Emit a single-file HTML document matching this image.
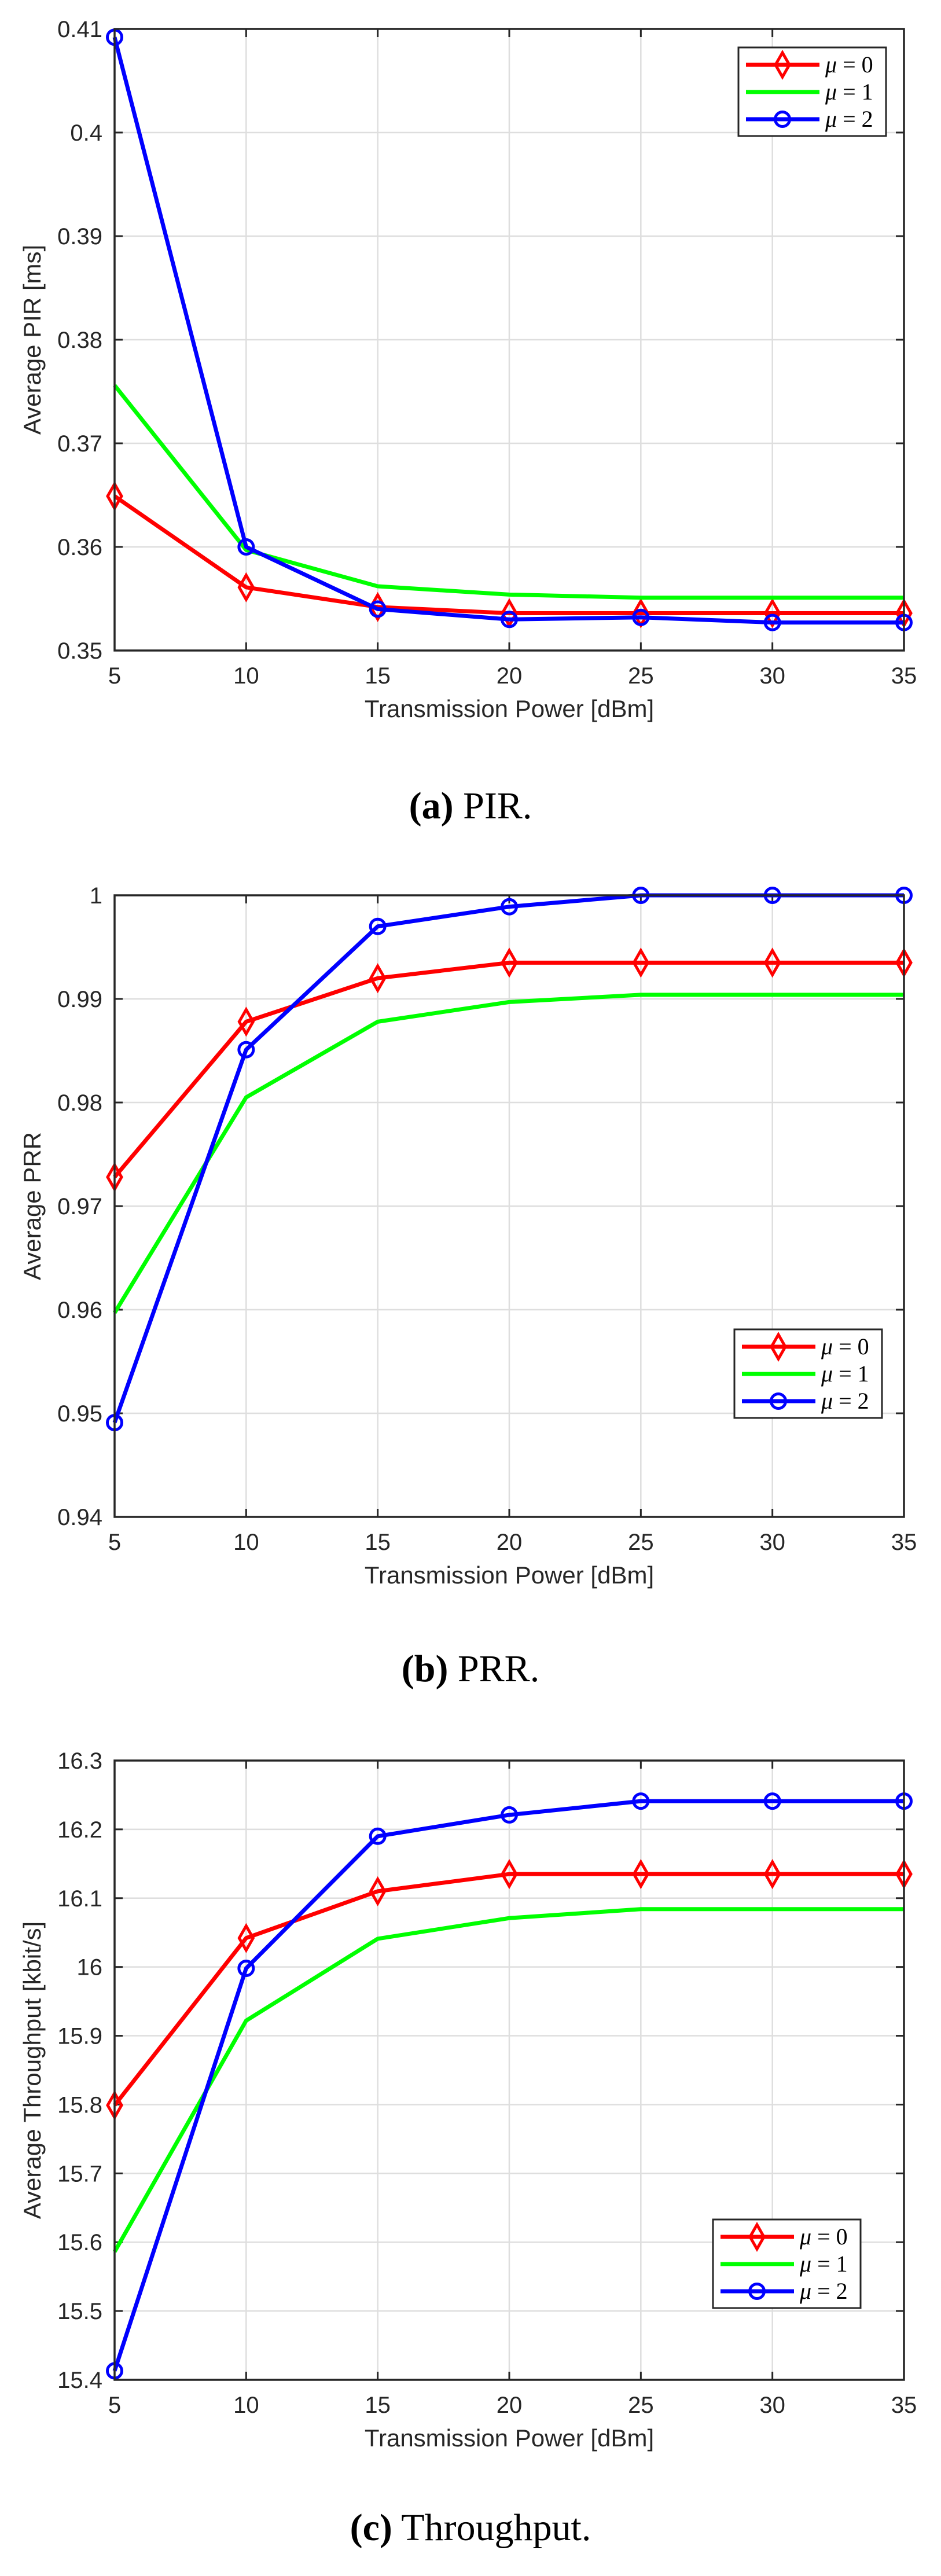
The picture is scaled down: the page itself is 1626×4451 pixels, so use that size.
<!DOCTYPE html>
<html><head><meta charset="utf-8">
<style>
html,body{margin:0;padding:0;background:#fff;}
svg{display:block;}
.tick{font-family:"Liberation Sans",sans-serif;font-size:40px;fill:#262626;}
.alab{font-family:"Liberation Sans",sans-serif;font-size:42px;fill:#262626;}
.cap{font-family:"Liberation Serif",serif;font-size:66px;fill:#000;}
.leg{font-family:"Liberation Serif",serif;font-size:40px;fill:#000;}
</style></head>
<body>
<svg id="root" width="1626" height="4451" viewBox="0 0 1626 4451" xmlns="http://www.w3.org/2000/svg"></svg>
<script>
const xCategories = [5, 10, 15, 20, 25, 30, 35];
const xTickLabels = ["5","10","15","20","25","30","35"];

const pirMu0 = [0.3649, 0.3561, 0.3542, 0.3536, 0.3536, 0.3536, 0.3536];
const pirMu1 = [0.3756, 0.3597, 0.3562, 0.3554, 0.3551, 0.3551, 0.3551];
const pirMu2 = [0.4092, 0.3600, 0.3540, 0.3530, 0.3532, 0.3527, 0.3527];
const pirTicks = [0.35, 0.36, 0.37, 0.38, 0.39, 0.40, 0.41];
const pirTickLabels = ["0.35","0.36","0.37","0.38","0.39","0.4","0.41"];

const prrMu0 = [0.9728, 0.9878, 0.9920, 0.9935, 0.9935, 0.9935, 0.9935];
const prrMu1 = [0.9597, 0.9805, 0.9878, 0.9897, 0.9904, 0.9904, 0.9904];
const prrMu2 = [0.9491, 0.9851, 0.9970, 0.9989, 1.0, 1.0, 1.0];
const prrTicks = [0.94, 0.95, 0.96, 0.97, 0.98, 0.99, 1.0];
const prrTickLabels = ["0.94","0.95","0.96","0.97","0.98","0.99","1"];

const thrMu0 = [15.799, 16.042, 16.110, 16.135, 16.135, 16.135, 16.135];
const thrMu1 = [15.586, 15.922, 16.041, 16.071, 16.084, 16.084, 16.084];
const thrMu2 = [15.413, 15.998, 16.190, 16.221, 16.241, 16.241, 16.241];
const thrTicks = [15.4, 15.5, 15.6, 15.7, 15.8, 15.9, 16.0, 16.1, 16.2, 16.3];
const thrTickLabels = ["15.4","15.5","15.6","15.7","15.8","15.9","16","16.1","16.2","16.3"];

const legendLabels = ["\u03bc = 0", "\u03bc = 1", "\u03bc = 2"];

const NS = "http://www.w3.org/2000/svg";
const root = document.getElementById("root");
function mk(tag, attrs, parent) {
  const e = document.createElementNS(NS, tag);
  for (const k in attrs) e.setAttribute(k, attrs[k]);
  (parent || root).appendChild(e);
  return e;
}
const COLORS = ["#ff0000", "#00ff00", "#0000ff"];
const MARKERS = ["diamond", "none", "circle"];

function drawMarker(g, type, x, y, color) {
  if (type === "diamond") {
    const m = mk("polygon", {points: `${x},${y-21} ${x+12},${y} ${x},${y+21} ${x-12},${y}`, fill: "none", stroke: color, "stroke-width": 5}, g);
    
    
  } else if (type === "circle") {
    const m = mk("circle", {cx: x, cy: y, r: 12.5, fill: "none", stroke: color, "stroke-width": 5}, g);
    
    
  }
}

function chart(cfg) {
  const L = 198, R = 1562, T = cfg.top, B = cfg.bottom;
  const xmin = xCategories[0], xmax = xCategories[xCategories.length - 1];
  const ymin = cfg.ticks[0], ymax = cfg.ticks[cfg.ticks.length - 1];
  const xs = v => L + (v - xmin) / (xmax - xmin) * (R - L);
  const ys = v => B - (v - ymin) / (ymax - ymin) * (B - T);
  const g = mk("g", {});
  
  
  // grid
  xCategories.forEach(v => {
    const l = mk("line", {x1: xs(v), x2: xs(v), y1: T, y2: B, stroke: "#dedede", "stroke-width": 2.5}, g);
    
    
  });
  cfg.ticks.forEach(v => {
    const l = mk("line", {x1: L, x2: R, y1: ys(v), y2: ys(v), stroke: "#dedede", "stroke-width": 2.5}, g);
    
    
  });
  // ticks
  xCategories.forEach((v, i) => {
    mk("line", {x1: xs(v), x2: xs(v), y1: B, y2: B - 14, stroke: "#262626", "stroke-width": 3}, g);
    mk("line", {x1: xs(v), x2: xs(v), y1: T, y2: T + 14, stroke: "#262626", "stroke-width": 3}, g);
    const t = mk("text", {x: xs(v), y: B + 57, "text-anchor": "middle", class: "tick"}, g);
    t.textContent = xTickLabels[i];
    
    
  });
  cfg.ticks.forEach((v, i) => {
    mk("line", {x1: L, x2: L + 14, y1: ys(v), y2: ys(v), stroke: "#262626", "stroke-width": 3}, g);
    mk("line", {x1: R, x2: R - 14, y1: ys(v), y2: ys(v), stroke: "#262626", "stroke-width": 3}, g);
    const t = mk("text", {x: L - 21, y: ys(v) + 14, "text-anchor": "end", class: "tick"}, g);
    t.textContent = cfg.tickLabels[i];
    
    
  });
  // series
  cfg.series.forEach((s, si) => {
    const sg = mk("g", {}, g);
    
    
    const pts = s.map((v, i) => xs(xCategories[i]) + "," + ys(v)).join(" ");
    const pl = mk("polyline", {points: pts, fill: "none", stroke: COLORS[si], "stroke-width": 7, "stroke-linejoin": "round"}, sg);
    
    
    s.forEach((v, i) => drawMarker(sg, MARKERS[si], xs(xCategories[i]), ys(v), COLORS[si]));
  });
  // axes box
  const box = mk("rect", {x: L, y: T, width: R - L, height: B - T, fill: "none", stroke: "#262626", "stroke-width": 3.5}, g);
  
  
  // labels
  const xl = mk("text", {x: (L + R) / 2, y: B + 115, "text-anchor": "middle", class: "alab"}, g);
  xl.textContent = "Transmission Power [dBm]";
  
  
  const cy = (T + B) / 2;
  const yl = mk("text", {x: 70, y: cy, "text-anchor": "middle", class: "alab", transform: `rotate(-90 70 ${cy})`}, g);
  yl.textContent = cfg.ylabel;
  
  
  // legend
  const lg = mk("g", {}, g);
  
  
  const lx = cfg.legX, ly = cfg.legY;
  mk("rect", {x: lx, y: ly, width: 255, height: 153, fill: "#fff", stroke: "#262626", "stroke-width": 3}, lg);
  [30, 77, 124].forEach((dy, i) => {
    const e = mk("g", {}, lg);
    
    
    mk("line", {x1: lx + 13, x2: lx + 140, y1: ly + dy, y2: ly + dy, stroke: COLORS[i], "stroke-width": 7}, e);
    drawMarker(e, MARKERS[i], lx + 76, ly + dy, COLORS[i]);
    const t = mk("text", {x: lx + 150, y: ly + dy + 13, class: "leg"}, e);
    t.innerHTML = '<tspan font-style="italic">\u03bc</tspan> = ' + i;
  });
  // caption
  const c = mk("text", {x: 813, y: cfg.capY, "text-anchor": "middle", class: "cap"}, g);
  c.innerHTML = '<tspan font-weight="bold">' + cfg.capA + '</tspan> ' + cfg.capB;
  
  
}

chart({name: "pir-chart", top: 50, bottom: 1124, ticks: pirTicks, tickLabels: pirTickLabels,
  series: [pirMu0, pirMu1, pirMu2], ylabel: "Average PIR [ms]", legX: 1276, legY: 82,
  capY: 1414, capA: "(a)", capB: "PIR."});
chart({name: "prr-chart", top: 1547, bottom: 2621, ticks: prrTicks, tickLabels: prrTickLabels,
  series: [prrMu0, prrMu1, prrMu2], ylabel: "Average PRR", legX: 1269, legY: 2297,
  capY: 2905, capA: "(b)", capB: "PRR."});
chart({name: "throughput-chart", top: 3042, bottom: 4112, ticks: thrTicks, tickLabels: thrTickLabels,
  series: [thrMu0, thrMu1, thrMu2], ylabel: "Average Throughput [kbit/s]", legX: 1232, legY: 3835,
  capY: 4389, capA: "(c)", capB: "Throughput."});
</script>
</body></html>
